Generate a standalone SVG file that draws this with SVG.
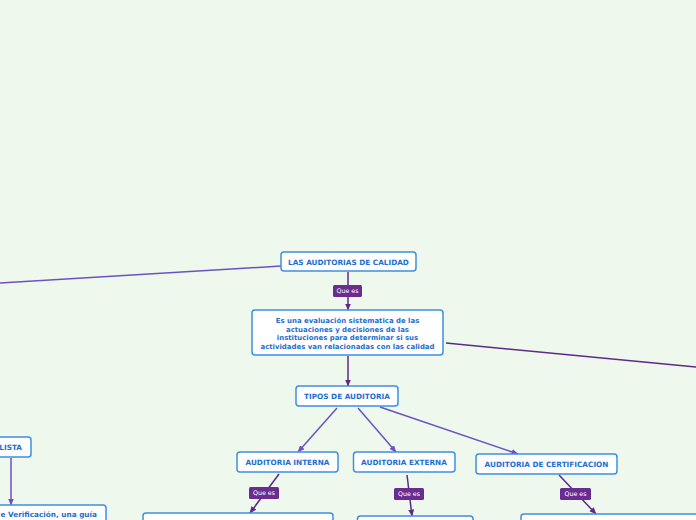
<svg xmlns="http://www.w3.org/2000/svg" width="696" height="520" viewBox="0 0 696 520">
<defs>
<marker id="ad" markerWidth="7" markerHeight="6" refX="6.5" refY="3" orient="auto" markerUnits="userSpaceOnUse"><path d="M0,0 L7,3 L0,6 z" fill="#5c2a8a"/></marker>
<marker id="al" markerWidth="7" markerHeight="6" refX="6.5" refY="3" orient="auto" markerUnits="userSpaceOnUse"><path d="M0,0 L7,3 L0,6 z" fill="#6b52c4"/></marker>
<style>
.n{fill:#fff;stroke:#3d8fe3;stroke-width:1.5}
.t{font-family:"DejaVu Sans",Verdana,sans-serif;font-weight:bold;font-size:7.3px;fill:#1c6fd1;text-anchor:middle}
.m{font-size:6.95px}
.cd{stroke:#5c2a8a;stroke-width:1.5;fill:none}
.cl{stroke:#6b52c4;stroke-width:1.5;fill:none}
.lb{fill:#6b2c91}
.lt{font-family:"DejaVu Sans",Verdana,sans-serif;font-size:6.3px;fill:#fff;text-anchor:middle}
</style>
</defs>
<rect width="696" height="520" fill="#eef8ec"/>
<g id="connectors">
<line class="cl" x1="281" y1="266" x2="0" y2="283"/>
<line class="cd" x1="446" y1="343" x2="696" y2="367"/>
<line class="cd" x1="348" y1="272" x2="348" y2="310" marker-end="url(#ad)"/>
<line class="cd" x1="348" y1="356" x2="348" y2="386" marker-end="url(#ad)"/>
<line class="cl" x1="337" y1="408" x2="298" y2="452" marker-end="url(#al)"/>
<line class="cl" x1="358" y1="408" x2="396" y2="452" marker-end="url(#al)"/>
<line class="cl" x1="380" y1="407" x2="518" y2="454" marker-end="url(#al)"/>
<line class="cd" x1="279" y1="474" x2="250" y2="513" marker-end="url(#ad)"/>
<line class="cd" x1="407" y1="475" x2="412" y2="516" marker-end="url(#ad)"/>
<line class="cd" x1="559" y1="475" x2="596" y2="514" marker-end="url(#ad)"/>
<line class="cl" x1="11" y1="458" x2="11" y2="505" marker-end="url(#al)"/>
<rect class="lb" x="333" y="285" width="29" height="12" rx="1.5"/>
<text class="lt" x="347.5" y="293.3">Que es</text>
<rect class="lb" x="249" y="487" width="30" height="12" rx="1.5"/>
<text class="lt" x="264" y="495.3">Que es</text>
<rect class="lb" x="394" y="488" width="30" height="12" rx="1.5"/>
<text class="lt" x="409" y="496.3">Que es</text>
<rect class="lb" x="560" y="488" width="31" height="12" rx="1.5"/>
<text class="lt" x="575.5" y="496.3">Que es</text>
</g>
<g id="n-calidad">
<rect class="n" x="281" y="252" width="135" height="19" rx="3"/>
<text class="t" x="348.5" y="264.5">LAS AUDITORIAS DE CALIDAD</text>
</g>
<g id="n-def">
<rect class="n" x="252" y="310" width="191" height="45" rx="3"/>
<text class="t m" x="347.5" y="323">Es una evaluación sistematica de las</text>
<text class="t m" x="347.5" y="331.5">actuaciones y decisiones de las</text>
<text class="t m" x="347.5" y="340">instituciones para determinar si sus</text>
<text class="t m" x="347.5" y="348.5">actividades van relacionadas con las calidad</text>
</g>
<g id="n-tipos">
<rect class="n" x="296" y="386" width="102" height="20" rx="3"/>
<text class="t" x="347" y="398.8">TIPOS DE AUDITORIA</text>
</g>
<g id="n-interna">
<rect class="n" x="237" y="452" width="101" height="20" rx="3"/>
<text class="t" x="287.5" y="464.8">AUDITORIA INTERNA</text>
</g>
<g id="n-externa">
<rect class="n" x="353.5" y="452" width="101.5" height="20" rx="3"/>
<text class="t" x="404" y="464.8">AUDITORIA EXTERNA</text>
</g>
<g id="n-cert">
<rect class="n" x="476" y="454" width="141" height="20" rx="3"/>
<text class="t" x="546.5" y="466.8">AUDITORIA DE CERTIFICACION</text>
</g>
<g id="n-lista">
<rect class="n" x="-40" y="437" width="71" height="20" rx="3"/>
<text class="t" x="22" y="449.8" style="text-anchor:end">LISTA</text>
</g>
<g id="n-verif">
<rect class="n" x="-40" y="505" width="146" height="30" rx="3"/>
<text class="t" x="0.5" y="517" style="text-anchor:start">e Verificación, una guía</text>
</g>
<g id="n-interna-def">
<rect class="n" x="143" y="513" width="190" height="30" rx="3"/>
</g>
<g id="n-externa-def">
<rect class="n" x="357.5" y="516" width="115.5" height="30" rx="3"/>
</g>
<g id="n-cert-def">
<rect class="n" x="521" y="514" width="190" height="30" rx="3"/>
</g>
</svg>
